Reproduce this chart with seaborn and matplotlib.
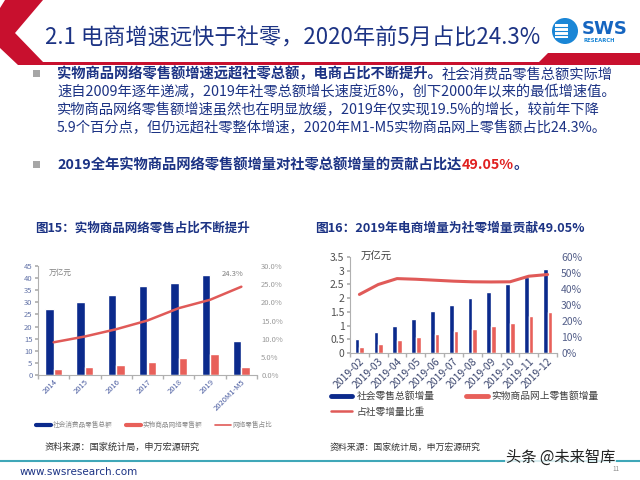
import numpy as np
import pandas as pd
import seaborn as sns
import matplotlib.pyplot as plt
import matplotlib.patches as mpatches
from matplotlib.lines import Line2D
from matplotlib.ticker import FuncFormatter, MultipleLocator

sns.set_theme(style="white")
plt.rcParams['font.family'] = ['Noto Sans CJK SC', 'DejaVu Sans']
plt.rcParams['axes.unicode_minus'] = False

'''data - chart 15'''
years = ["2014", "2015", "2016", "2017", "2018", "2019", "2020M1-M5"]
retail_total = [27.2, 30.1, 33.2, 36.6, 38.1, 41.2, 13.9]   # 社会消费品零售总额 (万亿元)
online_goods = [2.3, 3.2, 4.2, 5.3, 7.0, 8.5, 3.3]          # 实物商品网络零售额
online_share = [9.0, 10.6, 12.6, 15.0, 18.4, 20.7, 24.3]    # 网络零售占比 (%)

'''data - chart 16'''
months = ["2019-02", "2019-03", "2019-04", "2019-05", "2019-06", "2019-07",
          "2019-08", "2019-09", "2019-10", "2019-11", "2019-12"]
retail_inc = [0.50, 0.75, 0.97, 1.23, 1.52, 1.75, 2.00, 2.23, 2.51, 2.77, 3.08]
online_inc = [0.21, 0.34, 0.46, 0.58, 0.69, 0.80, 0.88, 0.99, 1.11, 1.34, 1.50]
inc_share = [36.6, 42.8, 46.5, 46.1, 45.5, 44.9, 44.5, 44.4, 44.5, 48.0, 49.05]

navy = "#0b2a8c"
red = "#e8605a"
line_red = "#e05a58"
text_blue = "#1c3384"

fig = plt.figure(figsize=(6.4, 4.8), dpi=100)

# background axes in pixel coordinates
bg = fig.add_axes([0, 0, 1, 1])
bg.set_xlim(0, 640)
bg.set_ylim(480, 0)
bg.axis("off")

'''header'''
chevron = mpatches.Polygon([(5, 0), (43, 0), (15, 33), (44, 63), (18, 65), (0, 48), (0, 8)],
                           closed=True, facecolor="#c8102e", edgecolor="none")
bg.add_patch(chevron)
bg.add_patch(mpatches.Rectangle((18, 62), 622, 3, facecolor="#c8102e", edgecolor="none"))
bg.add_patch(mpatches.Polygon([(548, 53), (640, 53), (640, 63), (538, 63)],
                              closed=True, facecolor="#c8102e", edgecolor="none"))
bg.text(45, 38, "2.1 电商增速远快于社零，2020年前5月占比24.3%", fontsize=16,
        color=text_blue, va="center", ha="left")

# logo
bg.add_patch(mpatches.Circle((565, 31), 13, facecolor="#1a86d6", edgecolor="none"))
bg.add_patch(mpatches.Rectangle((555, 24), 13, 14, facecolor="white", edgecolor="none"))
for yy in (27, 31, 35):
    bg.plot([553, 570], [yy, yy], color="#1a86d6", lw=0.8)
bg.text(582, 29, "SWS", fontsize=13, fontweight="bold", color="#1565c0", va="center",
        family="DejaVu Sans")
bg.text(583, 40, "RESEARCH", fontsize=3.8, fontweight="bold", color="#1a86d6", va="center",
        family="DejaVu Sans")

'''bullets'''
def run_text(parts, x, y, size):
    prev = None
    for txt, color, weight in parts:
        if prev is None:
            prev = bg.text(x, y, txt, fontsize=size, color=color, fontweight=weight,
                           va="center", ha="left")
        else:
            prev = bg.annotate(txt, xy=(1, 0), xycoords=prev, fontsize=size, color=color,
                               fontweight=weight, va="bottom", ha="left")
    return prev

fs = 10.3
bg.add_patch(mpatches.Rectangle((33, 70), 7, 7, facecolor="#a6a6a6", edgecolor="none"))
run_text([("实物商品网络零售额增速远超社零总额，电商占比不断提升。", text_blue, "bold"),
          ("社会消费品零售总额实际增", text_blue, "normal")], 57, 74, fs)
run_text([("速自2009年逐年递减，2019年社零总额增长速度近8%，创下2000年以来的最低增速值。",
           text_blue, "normal")], 57, 92, fs)
run_text([("实物商品网络零售额增速虽然也在明显放缓，2019年仅实现19.5%的增长，较前年下降",
           text_blue, "normal")], 57, 110, fs)
run_text([("5.9个百分点，但仍远超社零整体增速，2020年M1-M5实物商品网上零售额占比24.3%。",
           text_blue, "normal")], 57, 128, fs)
bg.add_patch(mpatches.Rectangle((33, 161), 7, 7, facecolor="#a6a6a6", edgecolor="none"))
run_text([("2019全年实物商品网络零售额增量对社零总额增量的贡献占比达", text_blue, "bold"),
          ("49.05%", "#e02020", "bold"),
          ("。", text_blue, "bold")], 57, 165, fs)

'''chart titles'''
bg.text(35, 228, "图15：实物商品网络零售占比不断提升", fontsize=9, fontweight="bold",
        color=text_blue, va="center")
bg.text(315, 228, "图16：2019年电商增量为社零增量贡献49.05%", fontsize=9.2, fontweight="bold",
        color=text_blue, va="center")


def style_axes(ax, ax2, n, lab_size, left_color, right_color, x_color, spine_color):
    sns.despine(ax=ax, top=True, right=True)
    for side in ("top", "right", "left", "bottom"):
        ax2.spines[side].set_visible(False)
    ax.spines["left"].set_color(spine_color)
    ax.spines["bottom"].set_color(spine_color)
    ax.spines["left"].set_linewidth(0.8)
    ax.spines["bottom"].set_linewidth(0.8)
    ax.set_xlim(-0.5, n - 0.5)
    ax.set_xlabel("")
    ax.set_ylabel("")
    ax2.set_ylabel("")
    ax.set_xticks(np.arange(-0.5, n, 1.0), minor=True)
    ax.tick_params(axis="x", which="minor", length=3, color=spine_color, bottom=True)
    ax.tick_params(axis="x", which="major", length=0, labelsize=lab_size, colors=x_color, pad=2)
    ax.tick_params(axis="y", length=2, color=spine_color, left=True, labelsize=lab_size,
                   colors=left_color, pad=2)
    ax2.tick_params(axis="y", length=0, labelsize=lab_size, colors=right_color, pad=3)
    for lab in ax.get_xticklabels():
        lab.set_rotation(45)
        lab.set_ha("right")
        lab.set_rotation_mode("anchor")
    ax.set_facecolor("none")
    ax.grid(False)
    ax2.grid(False)


'''chart 15'''
ax1 = fig.add_axes([38 / 640, 1 - 375 / 480, 219 / 640, 109 / 480])
df1 = pd.DataFrame({"cat": years * 2,
                    "series": ["社会消费品零售总额"] * len(years) + ["实物商品网络零售额"] * len(years),
                    "value": retail_total + online_goods})
sns.barplot(data=df1, x="cat", y="value", hue="series", palette=[navy, red], width=0.54,
            gap=0, legend=False, ax=ax1, saturation=1)
ax1.set_ylim(0, 45)
ax1.yaxis.set_major_locator(MultipleLocator(5))
ax1b = ax1.twinx()
sns.lineplot(x=np.arange(len(years)), y=online_share, ax=ax1b, color=line_red, lw=1.8)
ax1b.set_ylim(0, 30)
ax1b.yaxis.set_major_locator(MultipleLocator(5))
ax1b.yaxis.set_major_formatter(FuncFormatter(lambda v, p: "%.1f%%" % v))
style_axes(ax1, ax1b, len(years), 5.5, "#6474a8", "#9a9a9a", "#4a5ca0", "#b0b0b0")
ax1.text(0.05, 0.97, "万亿元", transform=ax1.transAxes, fontsize=5.5, color="#808080",
         va="top")
ax1b.annotate("%.1f%%" % online_share[-1], xy=(len(years) - 1, online_share[-1]),
              xytext=(-6, 6), textcoords="offset points", fontsize=5.5, color="#808080",
              ha="center", va="bottom")

fig.legend(handles=[Line2D([], [], color=navy, lw=3), Line2D([], [], color=red, lw=3),
                    Line2D([], [], color=line_red, lw=1.2)],
           labels=["社会消费品零售总额", "实物商品网络零售额", "网络零售占比"],
           loc="center left", bbox_to_anchor=(36 / 640, 1 - 425 / 480), ncol=3, frameon=False,
           fontsize=4.8, handlelength=2.3, handletextpad=0.2, columnspacing=2.0,
           labelcolor="#8a8a8a", borderpad=0, borderaxespad=0)

'''chart 16'''
ax2 = fig.add_axes([350 / 640, 1 - 353 / 480, 207 / 640, 96 / 480])
df2 = pd.DataFrame({"cat": months * 2,
                    "series": ["社会零售总额增量"] * len(months) + ["实物商品网上零售额增量"] * len(months),
                    "value": retail_inc + online_inc})
sns.barplot(data=df2, x="cat", y="value", hue="series", palette=[navy, red], width=0.5,
            gap=0, legend=False, ax=ax2, saturation=1)
ax2.set_ylim(0, 3.5)
ax2.yaxis.set_major_locator(MultipleLocator(0.5))
ax2.yaxis.set_major_formatter(FuncFormatter(lambda v, p: "%g" % v))
ax2b = ax2.twinx()
sns.lineplot(x=np.arange(len(months)), y=inc_share, ax=ax2b, color=line_red, lw=2.2)
ax2b.set_ylim(0, 60)
ax2b.yaxis.set_major_locator(MultipleLocator(10))
ax2b.yaxis.set_major_formatter(FuncFormatter(lambda v, p: "%d%%" % v))
style_axes(ax2, ax2b, len(months), 7.5, "#505050", "#55608a", "#3d4870", "#b0b0b0")
ax2.text(0.05, 1.0, "万亿元", transform=ax2.transAxes, fontsize=7.5, color="#404040",
         va="center")

fig.legend(handles=[Line2D([], [], color=navy, lw=3.5), Line2D([], [], color=line_red, lw=1.8),
                    Line2D([], [], color=red, lw=3.5)],
           labels=["社会零售总额增量", "占社零增量比重", "实物商品网上零售额增量"],
           loc="upper left", bbox_to_anchor=(331 / 640, 1 - 391 / 480), ncol=2, frameon=False,
           fontsize=7, handlelength=2.2, handletextpad=0.4, columnspacing=3.3,
           labelspacing=0.55, labelcolor="#404040", borderpad=0, borderaxespad=0)

'''sources and footer'''
bg.text(45, 447, "资料来源：国家统计局，申万宏源研究", fontsize=6.6, color="#333333", va="center")
bg.text(330, 447, "资料来源：国家统计局，申万宏源研究", fontsize=6.4, color="#333333", va="center")
bg.plot([0, 640], [461, 461], color="#3fa7b8", lw=1.5)
bg.text(20, 472, "www.swsresearch.com", fontsize=7.5, color=text_blue, va="center",
        family="DejaVu Sans")
bg.text(612, 469, "11", fontsize=4.5, color="#888888", va="center")
bg.text(506, 457, "头条 @未来智库", fontsize=11, color="#222222", va="center",
        bbox=dict(facecolor="white", edgecolor="none", pad=0.5, alpha=0.8))

plt.savefig("out.png", dpi=100)
